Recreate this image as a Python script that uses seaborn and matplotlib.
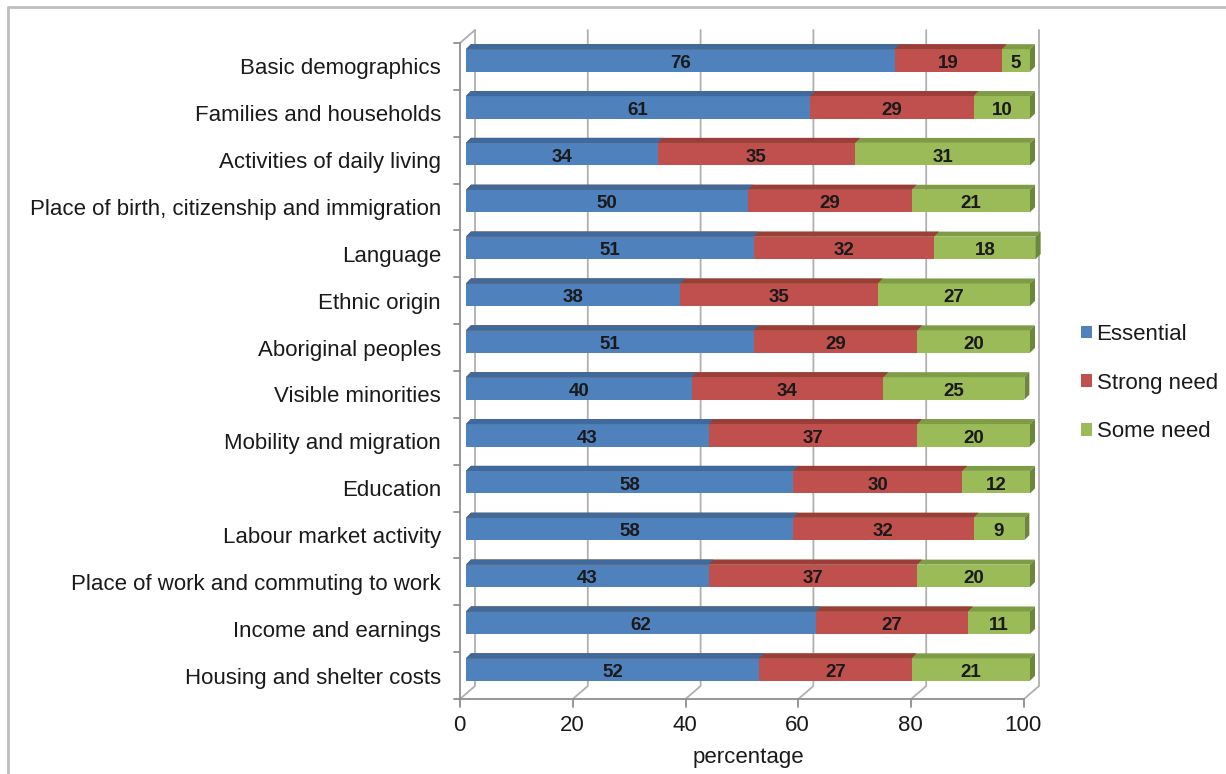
import numpy as np
import pandas as pd
import matplotlib
matplotlib.use("Agg")
import matplotlib.pyplot as plt
import matplotlib.transforms as mtransforms
from matplotlib.patches import Polygon, Rectangle
from matplotlib.lines import Line2D
import seaborn as sns

categories = [
    "Basic demographics",
    "Families and households",
    "Activities of daily living",
    "Place of birth, citizenship and immigration",
    "Language",
    "Ethnic origin",
    "Aboriginal peoples",
    "Visible minorities",
    "Mobility and migration",
    "Education",
    "Labour market activity",
    "Place of work and commuting to work",
    "Income and earnings",
    "Housing and shelter costs",
]
essential = [76, 61, 34, 50, 51, 38, 51, 40, 43, 58, 58, 43, 62, 52]
strong_need = [19, 29, 35, 29, 32, 35, 29, 34, 37, 30, 32, 37, 27, 27]
some_need = [5, 10, 31, 21, 18, 27, 20, 25, 20, 12, 9, 20, 11, 21]
series_names = ["Essential", "Strong need", "Some need"]
x_ticks = [0, 20, 40, 60, 80, 100]

face_colors = {"Essential": "#4F81BD", "Strong need": "#C0504D", "Some need": "#9BBB59"}
top_colors = {"Essential": "#3E6A9E", "Strong need": "#9C3D3A", "Some need": "#7E9C45"}
side_colors = {"Essential": "#35598A", "Strong need": "#863331", "Some need": "#6C873A"}

sns.set_theme(style="white")
plt.rcParams["font.family"] = ["Liberation Sans", "DejaVu Sans"]
TEXT = "#1a1a1a"
LABEL_SIZE = 16

W, H, DPI = 1226, 774, 100
fig = plt.figure(figsize=(W / DPI, H / DPI), dpi=DPI)
fig.patch.set_facecolor("white")

# plot area (pixels): the plane the bars sit in
AX_L, AX_R, AX_T, AX_B = 466, 1030, 37, 693
ax = fig.add_axes([AX_L / W, 1 - AX_B / H, (AX_R - AX_L) / W, (AX_B - AX_T) / H])

df = pd.DataFrame({
    "category": categories,
    "Essential": essential,
    "Strong need": strong_need,
    "Some need": some_need,
})
df["cum_essential"] = df["Essential"]
df["cum_strong"] = df["Essential"] + df["Strong need"]
df["cum_some"] = df["cum_strong"] + df["Some need"]

# stacked bars: draw the running totals from longest to shortest
layers = [("cum_some", "Some need"), ("cum_strong", "Strong need"), ("cum_essential", "Essential")]
layer_patches = {}
for col, name in layers:
    n0 = len(ax.patches)
    sns.barplot(data=df, x=col, y="category", orient="h", color=face_colors[name],
                saturation=1, width=0.48, linewidth=0, errorbar=None, ax=ax)
    layer_patches[name] = ax.patches[n0:]

n = len(categories)
ax.set_xlim(0, 100)
ax.set_ylim(n - 0.5, -0.5)
for s in ax.spines.values():
    s.set_visible(False)
ax.set_facecolor("none")

# pixel -> data scales
sx = (AX_R - AX_L) / 100.0
sy = (AX_B - AX_T) / n

def dpx(px_right, px_down):
    return px_right / sx, px_down / sy

# bar depth faces
ddx, ddy = dpx(5, -5)
for col, name in layers:
    for p in layer_patches[name]:
        p.set_clip_on(False)
        x0, w = p.get_x(), p.get_width()
        y0, h = p.get_y(), p.get_height()
        top = Polygon([(x0, y0), (x0 + w, y0), (x0 + w + ddx, y0 + ddy), (x0 + ddx, y0 + ddy)],
                      closed=True, facecolor=top_colors[name], edgecolor="none",
                      zorder=p.get_zorder(), clip_on=False)
        ax.add_patch(top)
        if name == "Some need":
            x1 = x0 + w
            side = Polygon([(x1, y0 + h), (x1, y0), (x1 + ddx, y0 + ddy), (x1 + ddx, y0 + h + ddy)],
                           closed=True, facecolor=side_colors[name], edgecolor="none",
                           zorder=p.get_zorder(), clip_on=False)
            ax.add_patch(side)

# 3-D frame: front plane and back wall
fdx, fdy = dpx(-6, 6)
bdx, bdy = dpx(9, -7)
y_top, y_bot = -0.5, n - 0.5
grid_c, axis_c = "#b0b0b0", "#8f8f8f"
lw = 1.3
for t in x_ticks:
    ax.plot([t + bdx, t + bdx, t + fdx], [y_top + bdy, y_bot + bdy, y_bot + fdy],
            color=grid_c, lw=lw, clip_on=False, zorder=0.5)
ax.plot([fdx, bdx], [y_top + fdy, y_top + bdy], color=grid_c, lw=lw, clip_on=False, zorder=0.5)
ax.plot([fdx, fdx], [y_top + fdy, y_bot + fdy], color=axis_c, lw=lw, clip_on=False, zorder=0.6)
ax.plot([fdx, 100 + fdx], [y_bot + fdy, y_bot + fdy], color=axis_c, lw=lw, clip_on=False, zorder=0.6)
tlx, _ = dpx(6, 0)
for k in range(n + 1):
    yy = k - 0.5 + fdy
    ax.plot([fdx - tlx, fdx], [yy, yy], color=axis_c, lw=lw, clip_on=False, zorder=0.6)
_, tly = dpx(0, 8)
for t in x_ticks:
    ax.plot([t + fdx, t + fdx], [y_bot + fdy, y_bot + fdy + tly], color=axis_c, lw=lw,
            clip_on=False, zorder=0.6)

# segment value labels
_, lab_dy = dpx(0, 3)
starts = np.zeros(n)
for name in series_names:
    vals = df[name].to_numpy()
    for i, v in enumerate(vals):
        ax.text(starts[i] + v / 2.0, i + lab_dy, f"{v}", ha="center", va="center",
                fontsize=13.5, fontweight="bold", color=TEXT, zorder=6)
    starts = starts + vals

# axis tick labels
ax.set_yticks(range(n))
ax.set_yticklabels(categories, fontsize=LABEL_SIZE, color=TEXT)
ax.tick_params(axis="y", length=0, pad=(AX_L - 441) * 0.72)
shift_y = mtransforms.ScaledTranslation(0, -6 / DPI, fig.dpi_scale_trans)
for lab in ax.get_yticklabels():
    lab.set_transform(lab.get_transform() + shift_y)

ax.set_xticks(x_ticks)
ax.set_xticklabels([str(t) for t in x_ticks], fontsize=LABEL_SIZE, color=TEXT)
ax.tick_params(axis="x", length=0, pad=16)
shift_x = mtransforms.ScaledTranslation(-7 / DPI, 0, fig.dpi_scale_trans)
for lab in ax.get_xticklabels():
    lab.set_transform(lab.get_transform() + shift_x)

ax.set_ylabel("")
ax.set_xlabel("percentage", fontsize=LABEL_SIZE, color=TEXT, labelpad=8)
ax.grid(False)

# legend
handles = [Rectangle((0, 0), 1, 1, facecolor=face_colors[s], edgecolor="none") for s in series_names]
fig.legend(handles, series_names, loc="center left", bbox_to_anchor=(1081 / W, 1 - 383 / H),
           frameon=False, fontsize=LABEL_SIZE, handlelength=0.5, handleheight=0.5,
           handletextpad=0.2, labelspacing=1.25, borderaxespad=0, borderpad=0,
           labelcolor=TEXT)

# outer border (top and left edges)
fig.add_artist(Line2D([8 / W, 8 / W], [0, 1 - 7 / H], color="#bfbfbf", lw=2, transform=fig.transFigure))
fig.add_artist(Line2D([8 / W, 1], [1 - 7 / H, 1 - 7 / H], color="#bfbfbf", lw=2, transform=fig.transFigure))

fig.savefig("out.png", dpi=DPI, facecolor="white")
